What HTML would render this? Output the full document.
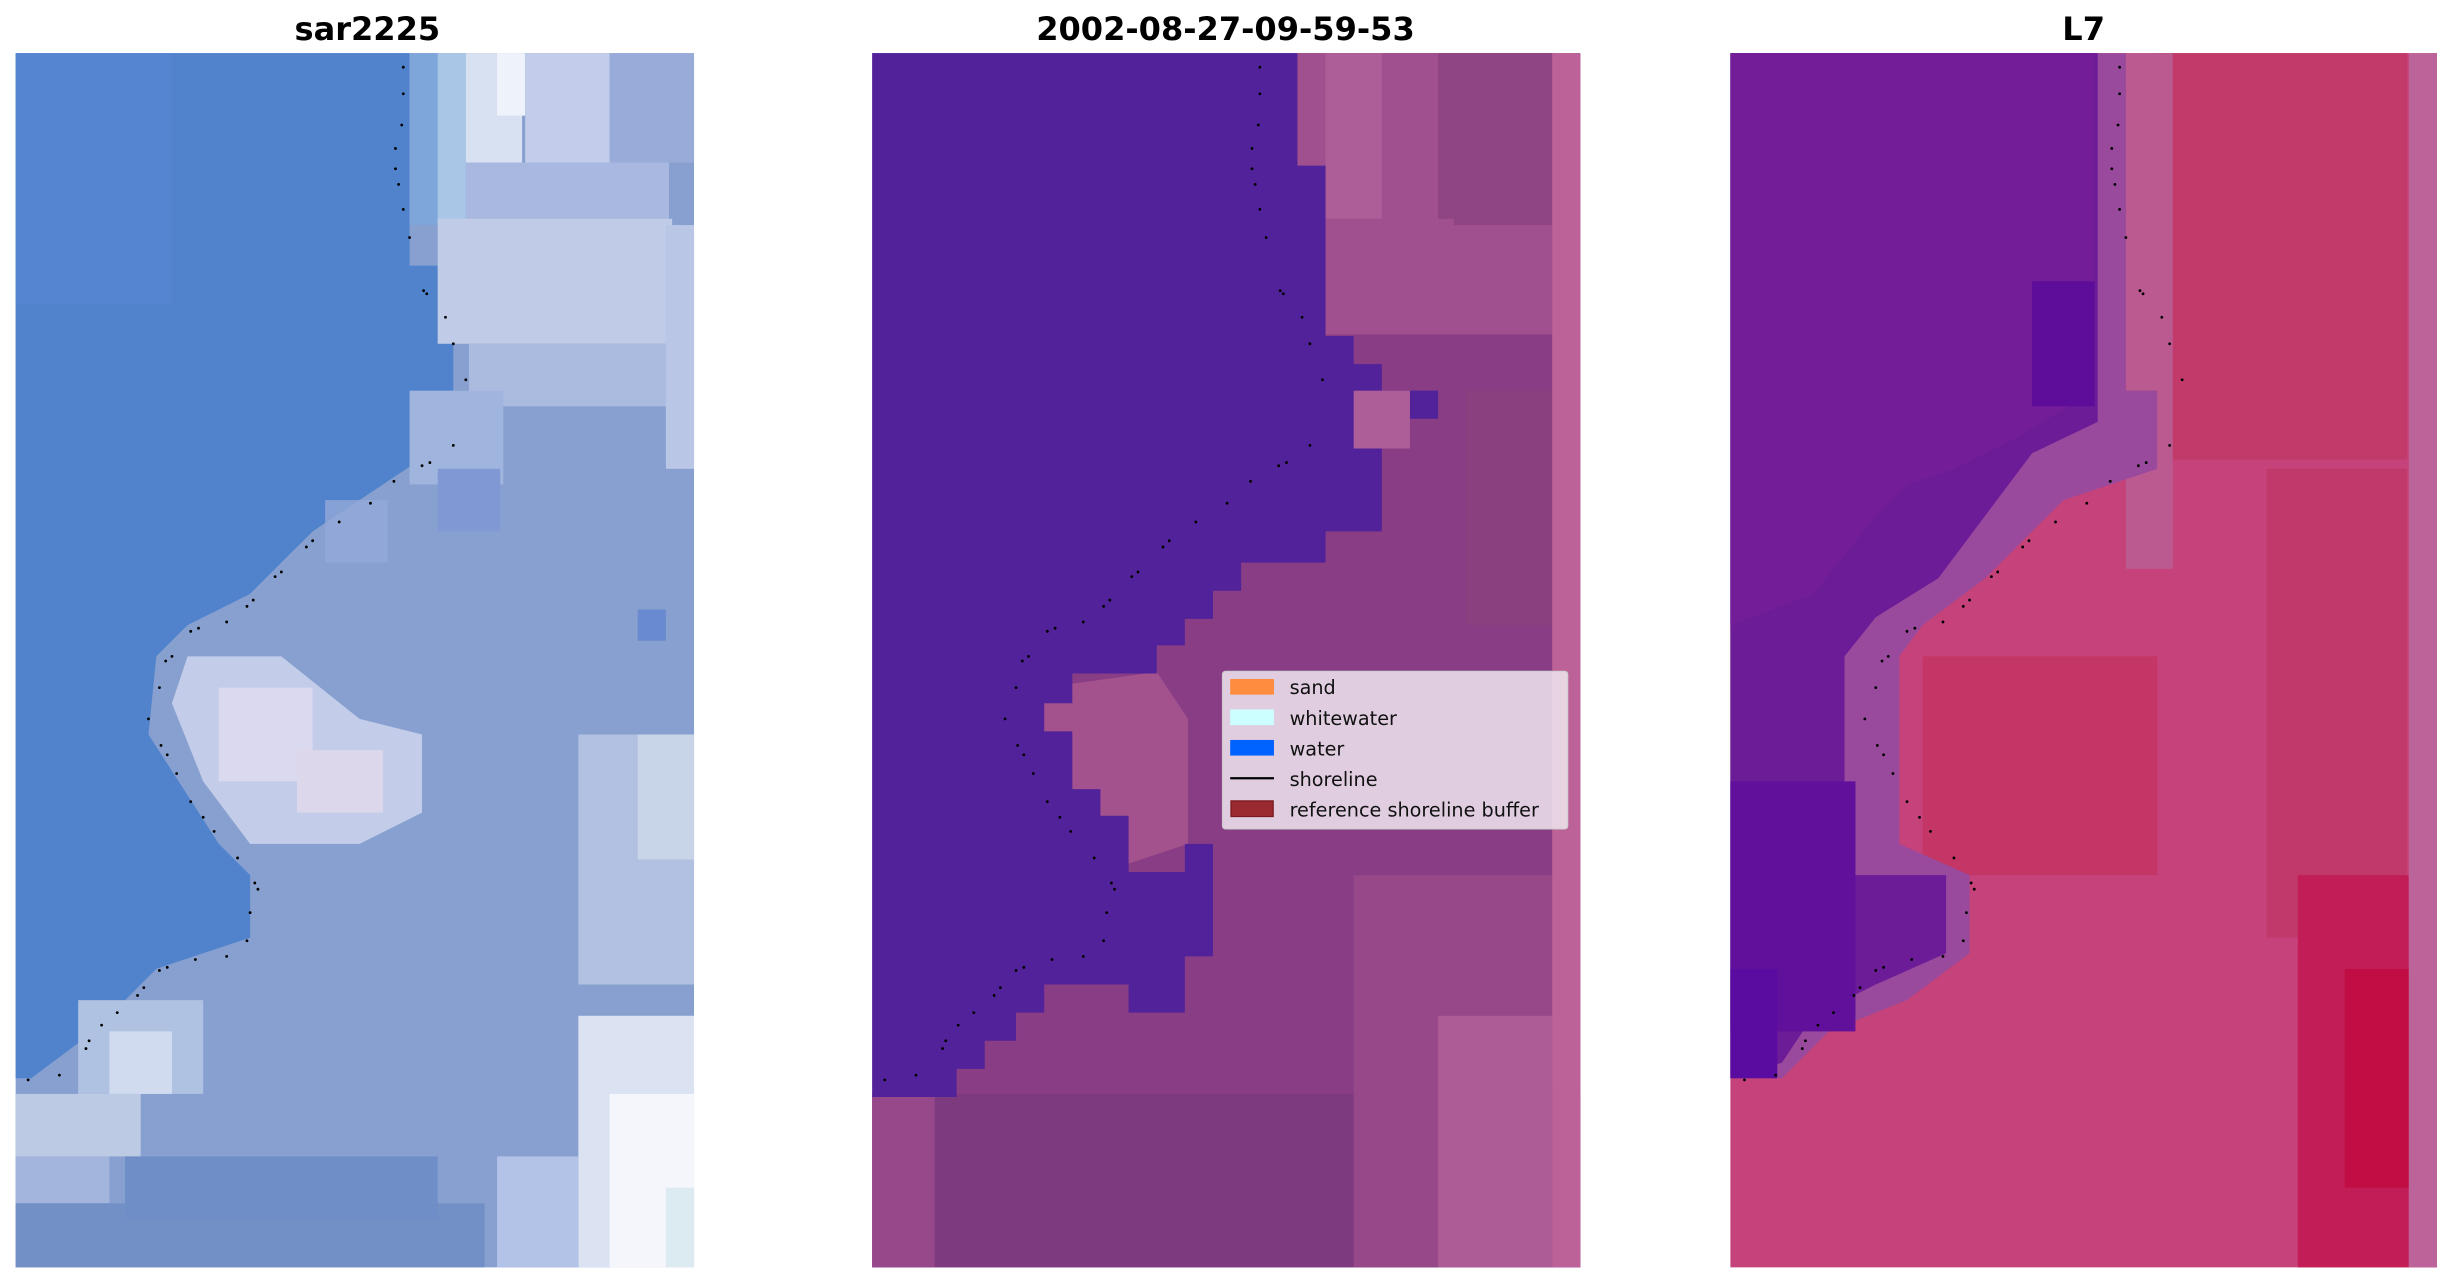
<!DOCTYPE html>
<html><head><meta charset="utf-8"><style>
html,body{margin:0;padding:0;background:#fff;}
svg{display:block;}
</style></head><body>
<svg width="2451" height="1283" viewBox="0 0 1568 821" preserveAspectRatio="none" xmlns="http://www.w3.org/2000/svg">
<defs>
<g id="dots" fill="#000">
<circle cx="258" cy="43" r="0.9"/><circle cx="258" cy="60" r="0.9"/><circle cx="257" cy="80" r="0.9"/><circle cx="253" cy="95" r="0.9"/><circle cx="253" cy="108" r="0.9"/><circle cx="255" cy="118" r="0.9"/><circle cx="258" cy="134" r="0.9"/><circle cx="262" cy="152" r="0.9"/><circle cx="271" cy="186" r="0.9"/><circle cx="273" cy="188" r="0.9"/><circle cx="285" cy="203" r="0.9"/><circle cx="290" cy="220" r="0.9"/><circle cx="298" cy="243" r="0.9"/><circle cx="290" cy="285" r="0.9"/><circle cx="275" cy="296" r="0.9"/><circle cx="270" cy="298" r="0.9"/><circle cx="252" cy="308" r="0.9"/><circle cx="237" cy="322" r="0.9"/><circle cx="217" cy="334" r="0.9"/><circle cx="200" cy="346" r="0.9"/><circle cx="196" cy="350" r="0.9"/><circle cx="180" cy="366" r="0.9"/><circle cx="176" cy="369" r="0.9"/><circle cx="162" cy="384" r="0.9"/><circle cx="158" cy="388" r="0.9"/><circle cx="145" cy="398" r="0.9"/><circle cx="127" cy="402" r="0.9"/><circle cx="122" cy="404" r="0.9"/><circle cx="110" cy="420" r="0.9"/><circle cx="106" cy="423" r="0.9"/><circle cx="102" cy="440" r="0.9"/><circle cx="95" cy="460" r="0.9"/><circle cx="103" cy="477" r="0.9"/><circle cx="107" cy="483" r="0.9"/><circle cx="113" cy="495" r="0.9"/><circle cx="122" cy="513" r="0.9"/><circle cx="130" cy="523" r="0.9"/><circle cx="137" cy="532" r="0.9"/><circle cx="152" cy="549" r="0.9"/><circle cx="163" cy="565" r="0.9"/><circle cx="165" cy="569" r="0.9"/><circle cx="160" cy="584" r="0.9"/><circle cx="158" cy="602" r="0.9"/><circle cx="145" cy="612" r="0.9"/><circle cx="125" cy="614" r="0.9"/><circle cx="107" cy="619" r="0.9"/><circle cx="102" cy="621" r="0.9"/><circle cx="92" cy="632" r="0.9"/><circle cx="88" cy="637" r="0.9"/><circle cx="75" cy="648" r="0.9"/><circle cx="65" cy="656" r="0.9"/><circle cx="57" cy="666" r="0.9"/><circle cx="55" cy="671" r="0.9"/><circle cx="38" cy="688" r="0.9"/><circle cx="18" cy="691" r="0.9"/>
</g>
</defs>
<rect width="1568" height="821" fill="#fff"/>

<!-- Panel 1 -->
<g>
<rect x="10" y="34" width="434" height="777" fill="#87a0d0"/>
<polygon points="10,34 262,34 262,170 290,170 290,280 260,300 230,320 200,340 160,380 120,400 100,420 95,470 140,540 160,560 160,600 100,620 60,660 20,690 10,690" fill="#5183cc"/>
<rect x="10" y="34" width="100" height="160" fill="#5a85d6" opacity="0.5"/>
<rect x="262" y="34" width="18" height="110" fill="#7ea6da"/>
<rect x="280" y="34" width="18" height="110" fill="#a9c6e6"/>
<rect x="298" y="34" width="36" height="70" fill="#d7e1f1"/>
<rect x="318" y="34" width="18" height="40" fill="#eef2fa"/>
<rect x="336" y="34" width="54" height="70" fill="#c3cdeb"/>
<rect x="390" y="34" width="54" height="70" fill="#99abd8"/>
<rect x="298" y="104" width="130" height="40" fill="#a9b8e0"/>
<rect x="280" y="140" width="150" height="80" fill="#bfcbe7"/>
<rect x="300" y="220" width="130" height="40" fill="#abbbe0"/>
<rect x="262" y="250" width="60" height="60" fill="#a0b5de"/>
<rect x="426" y="144" width="18" height="156" fill="#bac6e6"/>
<polygon points="120,420 180,420 230,460 270,470 270,520 230,540 160,540 130,500 110,450" fill="#c3cdea"/>
<rect x="140" y="440" width="60" height="60" fill="#dad9ef"/>
<rect x="190" y="480" width="55" height="40" fill="#dcd7ea"/>
<rect x="370" y="470" width="74" height="160" fill="#b2c1e1"/>
<rect x="408" y="470" width="36" height="80" fill="#c8d4e8"/>
<rect x="50" y="640" width="80" height="60" fill="#afc2e1"/>
<rect x="70" y="660" width="40" height="40" fill="#d0dbef"/>
<rect x="10" y="700" width="80" height="40" fill="#bccae4"/>
<rect x="10" y="740" width="60" height="30" fill="#a4b5dd"/>
<rect x="10" y="770" width="300" height="41" fill="#7290c6"/>
<rect x="80" y="740" width="200" height="40" fill="#6f8ec8"/>
<rect x="370" y="650" width="74" height="161" fill="#dbe2f2"/>
<rect x="390" y="700" width="54" height="111" fill="#f4f6fc"/>
<rect x="318" y="740" width="52" height="71" fill="#b3c3e8"/>
<rect x="426" y="760" width="18" height="51" fill="#dcebf1"/>
<rect x="208" y="320" width="40" height="40" fill="#93a9d8" opacity="0.8"/>
<rect x="280" y="300" width="40" height="40" fill="#8098d3"/>
<rect x="408" y="390" width="18" height="20" fill="#6a8ad0"/>
</g>
<use href="#dots"/>

<!-- Panel 2 -->
<g>
<rect x="558" y="34" width="453" height="777" fill="#883d85"/>
<rect x="830" y="34" width="163" height="180" fill="#a0508e"/>
<rect x="848" y="34" width="36" height="110" fill="#ad5e98"/>
<rect x="920" y="34" width="73" height="110" fill="#8f4484"/>
<rect x="830" y="140" width="100" height="60" fill="#a0508e"/>
<rect x="938" y="250" width="55" height="150" fill="#88407f"/>
<polygon points="668,440 740,430 760,460 760,540 700,560 700,520 686,505 686,470 668,468" fill="#a3528d"/>
<rect x="558" y="700" width="453" height="111" fill="#7e3a7e"/>
<rect x="558" y="700" width="40" height="111" fill="#96488a"/>
<rect x="866" y="560" width="127" height="251" fill="#964889"/>
<rect x="920" y="650" width="73" height="161" fill="#ae5c96"/>
<rect x="993" y="34" width="18" height="777" fill="#bd6298"/>
<polygon points="558,34 830,34 830,106 848,106 848,215 866,215 866,233 884,233 884,250 902,250 902,268 920,268 920,250 902,250 902,287 884,287 884,340 848,340 848,360 794,360 794,378 776,378 776,396 758,396 758,413 740,413 740,431 686,431 686,450 668,450 668,468 686,468 686,505 704,505 704,522 722,522 722,558 758,558 758,540 776,540 776,612 758,612 758,648 722,648 722,630 668,630 668,648 650,648 650,666 630,666 630,684 612,684 612,702 558,702" fill="#52229a"/>
<rect x="866" y="250" width="36" height="37" fill="#ad5e98"/>
</g>
<use href="#dots" transform="translate(548,0)"/>

<!-- Panel 3 -->
<g>
<rect x="1107" y="34" width="452" height="777" fill="#c6427a"/>
<rect x="1380" y="34" width="160" height="260" fill="#c13a6a"/>
<rect x="1450" y="300" width="90" height="300" fill="#c0396a"/>
<rect x="1230" y="420" width="150" height="140" fill="#c43666"/>
<rect x="1470" y="560" width="71" height="251" fill="#c31d57"/>
<rect x="1500" y="620" width="41" height="140" fill="#c00e45"/>
<rect x="1360" y="34" width="30" height="330" fill="#ba5a90"/>
<polygon points="1340,34 1360,34 1360,250 1380,250 1380,300 1320,320 1270,370 1230,400 1215,420 1215,540 1260,560 1260,610 1220,640 1170,660 1140,690 1107,690 1107,34" fill="#9a4a9c"/>
<polygon points="1107,34 1342,34 1342,270 1300,290 1270,330 1240,370 1200,395 1180,420 1180,560 1245,560 1245,610 1200,630 1160,650 1140,680 1107,690" fill="#6d1c98"/>
<polygon points="1107,34 1340,34 1340,250 1290,280 1250,300 1220,310 1200,330 1160,380 1107,400" fill="#731e98"/>
<rect x="1300" y="180" width="40" height="80" fill="#5e0c9a"/>
<rect x="1107" y="500" width="80" height="160" fill="#60109a"/>
<rect x="1107" y="620" width="30" height="70" fill="#5a0ca0"/>
<rect x="1541" y="34" width="18" height="777" fill="#bc6499"/>
</g>
<use href="#dots" transform="translate(1098,0)"/>

<!-- Titles -->
<g font-family="DejaVu Sans, Liberation Sans, sans-serif" font-weight="bold" font-size="20.5" text-anchor="middle" fill="#000">
<text x="235" y="25.5">sar2225</text>
<text x="784" y="25.5">2002-08-27-09-59-53</text>
<text x="1333" y="25.5">L7</text>
</g>

<!-- Legend -->
<g>
<rect x="782" y="429.5" width="221" height="101" rx="2" fill="#f0e8f0" fill-opacity="0.85" stroke="#cccccc" stroke-width="0.6"/>
<rect x="787" y="434.5" width="28" height="10" fill="#ff8c3f"/>
<rect x="787" y="454" width="28" height="10" fill="#ccffff"/>
<rect x="787" y="473.5" width="28" height="10" fill="#0062ff"/>
<line x1="787" y1="498" x2="815" y2="498" stroke="#000" stroke-width="1.5"/>
<rect x="787.5" y="512.5" width="27" height="10" fill="#9b2a30" stroke="#7a1a1f" stroke-width="0.8"/>
<g font-family="DejaVu Sans, Liberation Sans, sans-serif" font-size="12.3" fill="#111">
<text x="825" y="444">sand</text>
<text x="825" y="464">whitewater</text>
<text x="825" y="483.5">water</text>
<text x="825" y="503">shoreline</text>
<text x="825" y="522.5">reference shoreline buffer</text>
</g>
</g>
</svg>
</body></html>
